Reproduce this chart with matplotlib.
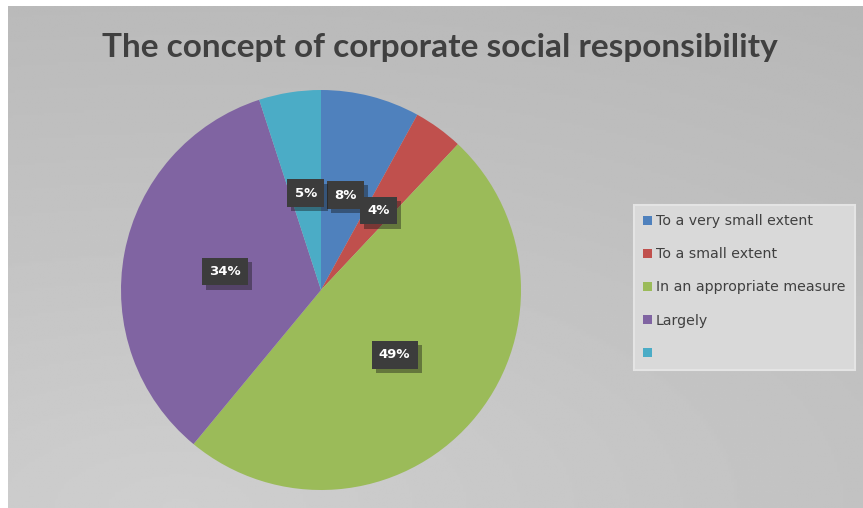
import matplotlib
matplotlib.use("Agg")
import matplotlib.pyplot as plt
import matplotlib.patheffects as pe
import numpy as np

# pie data
categories = ["To a very small extent", "To a small extent",
              "In an appropriate measure", "Largely", ""]
shares = [8, 4, 49, 34, 5]
colors = ["#4f81bd", "#c0504d", "#9bbb59", "#8064a2", "#4bacc6"]

W, H = 863, 508
fig = plt.figure(figsize=(W / 100, H / 100), dpi=100)

# gray gradient backdrop, white strip on top and left edges
bg = fig.add_axes([8 / W, 0, 1 - 8 / W, 1 - 6 / H])
yy, xx = np.mgrid[0:1:200j, 0:1:300j]
shade = 0.81 - 0.08 * np.sqrt((xx - 0.2) ** 2 * 0.6 + yy ** 2)
bg.imshow(shade, cmap="gray", vmin=0, vmax=1, aspect="auto", origin="lower",
          extent=[0, 1, 0, 1])
bg.axis("off")

fig.text(440 / W, 1 - 47 / H, "The concept of corporate social responsibility",
         ha="center", va="center", fontsize=24, fontweight="bold",
         color="#404040", family=["Lato", "DejaVu Sans"])

# pie axes centred at (321, 290) px with radius 200 px
cx, cy, r = 321, 290, 200
ax = fig.add_axes([(cx - r) / W, (H - cy - r) / H, 2 * r / W, 2 * r / H])
wedges, texts = ax.pie(shares, colors=colors, startangle=90, counterclock=False,
                       labels=[f"{v}%" for v in shares], labeldistance=0.49,
                       wedgeprops=dict(linewidth=0))
for t in texts:
    t.set_ha("center")
    t.set_va("center")
    t.set_color("white")
    t.set_fontweight("bold")
    t.set_fontsize(9.5)
    t.set_bbox(dict(boxstyle="square,pad=0.55", facecolor="#3c3c3c",
                    edgecolor="none"))
    t.get_bbox_patch().set_path_effects(
        [pe.withSimplePatchShadow(offset=(3, -3), alpha=0.4), pe.Normal()])
ax.set_xlim(-1, 1)
ax.set_ylim(-1, 1)
ax.axis("off")

leg = fig.legend(wedges, categories, loc="upper left",
                 bbox_to_anchor=(634 / W, 1 - 205 / H), fontsize=10.2,
                 handlelength=0.6, handleheight=0.6, handletextpad=0.3,
                 labelspacing=1.35, borderpad=0.65, borderaxespad=0,
                 fancybox=False, facecolor="#d9d9d9", edgecolor="#e4e4e4",
                 framealpha=1, labelcolor="#404040")
leg.get_frame().set_linewidth(1.5)

fig.savefig("out.png", dpi=100)
